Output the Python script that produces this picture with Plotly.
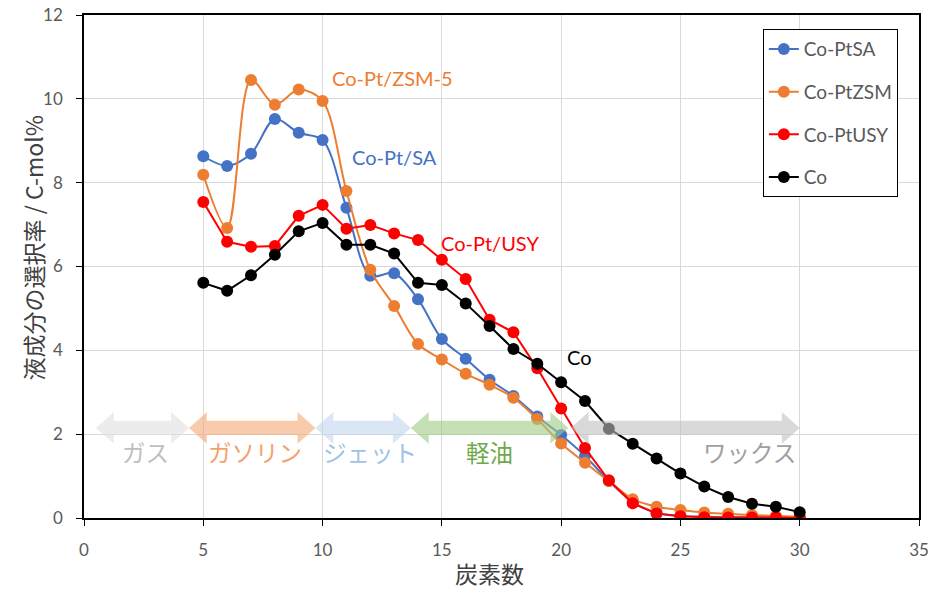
import plotly.graph_objects as go

# Carbon number of each liquid product fraction
carbon = list(range(5, 31))

# Selectivity to each carbon number (C-mol%)
co_pt_sa = [8.63, 8.40, 8.69, 9.52, 9.19, 9.02, 7.40, 5.78, 5.84, 5.22, 4.27, 3.80, 3.30,
            2.91, 2.42, 1.98, 1.48, 0.88, 0.38, 0.12, 0.05, 0.03, 0.02, 0.02, 0.01, 0.01]
co_pt_zsm = [8.19, 6.92, 10.45, 9.86, 10.22, 9.95, 7.80, 5.92, 5.06, 4.15, 3.78, 3.44, 3.18,
             2.87, 2.36, 1.78, 1.32, 0.88, 0.45, 0.27, 0.19, 0.13, 0.10, 0.07, 0.05, 0.03]
co_pt_usy = [7.54, 6.59, 6.47, 6.49, 7.21, 7.47, 6.90, 6.99, 6.79, 6.63, 6.16, 5.70, 4.73,
             4.43, 3.57, 2.61, 1.67, 0.90, 0.35, 0.11, 0.04, 0.02, 0.01, 0.01, 0.01, 0.00]
co_only = [5.61, 5.42, 5.79, 6.28, 6.84, 7.04, 6.52, 6.52, 6.31, 5.61, 5.56, 5.12, 4.58,
           4.03, 3.68, 3.24, 2.79, 2.13, 1.77, 1.42, 1.06, 0.75, 0.50, 0.34, 0.27, 0.14]

series_names = ["Co-PtSA", "Co-PtZSM", "Co-PtUSY", "Co"]
series_values = [co_pt_sa, co_pt_zsm, co_pt_usy, co_only]
series_colors = ["#4472C4", "#ED7D31", "#FF0000", "#000000"]
series_shapes = ["spline", "spline", "linear", "linear"]

# Inline series labels
label_texts = ["Co-Pt/ZSM-5", "Co-Pt/SA", "Co-Pt/USY", "Co"]
label_colors = ["#ED7D31", "#4472C4", "#FF0000", "#000000"]
label_x = [10.3, 11.15, 14.9, 20.15]
label_y = [10.5, 8.62, 6.56, 3.84]

# Product fractions: name and carbon-number span of each band
fraction_names = ["ガス", "ガソリン", "ジェット", "軽油", "ワックス"]
fraction_start = [0.5, 4.4, 9.7, 13.7, 20.4]
fraction_end = [4.4, 9.7, 13.7, 20.3, 30.0]
fraction_arrow_colors = ["#DFDFDF", "#F3A876", "#C1D3EE", "#A0CC85", "#C0C0C0"]
fraction_text_colors = ["#BFBFBF", "#F4A26C", "#9DC3E6", "#70A84C", "#A0A0A0"]
fraction_label_x = [2.56, 7.15, 12.0, 17.0, 27.9]

LATIN = "Lato, 'Noto Sans CJK JP', sans-serif"
CJK = "'Noto Sans CJK JP', sans-serif"

fig = go.Figure()

for i, (name, vals, col, shp) in enumerate(zip(series_names, series_values,
                                                series_colors, series_shapes)):
    fig.add_trace(go.Scatter(
        x=carbon, y=vals, name=name, mode="lines+markers",
        line=dict(color=col, width=2, shape=shp, smoothing=0.9),
        marker=dict(color=col, size=12),
        legendgroup=f"g{i}",
    ))

# Double-headed arrows marking each product fraction
yc, h_shaft, h_head, head_len = 2.15, 0.17, 0.38, 0.75
shapes = []
for a, b, col in zip(fraction_start, fraction_end, fraction_arrow_colors):
    path = (f"M {a},{yc} L {a+head_len},{yc+h_head} L {a+head_len},{yc+h_shaft} "
            f"L {b-head_len},{yc+h_shaft} L {b-head_len},{yc+h_head} L {b},{yc} "
            f"L {b-head_len},{yc-h_head} L {b-head_len},{yc-h_shaft} "
            f"L {a+head_len},{yc-h_shaft} L {a+head_len},{yc-h_head} Z")
    shapes.append(dict(type="path", path=path, xref="x", yref="y",
                       fillcolor=col, opacity=0.6, line=dict(width=0),
                       layer="above"))

annotations = []
for t, c, x, y in zip(label_texts, label_colors, label_x, label_y):
    annotations.append(dict(x=x, y=y, xref="x", yref="y", text=t, showarrow=False,
                            xanchor="left", yanchor="middle",
                            font=dict(family=LATIN, size=20, color=c)))
for t, c, x in zip(fraction_names, fraction_text_colors, fraction_label_x):
    annotations.append(dict(x=x, y=1.58, xref="x", yref="y", text=t, showarrow=False,
                            xanchor="center", yanchor="middle",
                            font=dict(family=CJK, size=23.5, color=c)))

# Axis titles
annotations.append(dict(x=0.486, y=0, xref="paper", yref="paper", yshift=-55,
                        text="炭素数", showarrow=False, xanchor="center",
                        yanchor="middle", font=dict(family=CJK, size=23, color="#404040")))
annotations.append(dict(x=0, y=0.536, xref="paper", yref="paper", xshift=-51,
                        text="液成分の選択率 / C-mol%", showarrow=False, textangle=-90,
                        xanchor="center", yanchor="middle",
                        font=dict(family=CJK, size=23, color="#404040")))

fig.update_layout(
    width=942, height=589,
    margin=dict(l=84, r=23, t=15, b=71),
    paper_bgcolor="white", plot_bgcolor="white",
    shapes=shapes, annotations=annotations,
    showlegend=True,
    legend=dict(x=0.813, y=0.972, xanchor="left", yanchor="top",
                bgcolor="white", bordercolor="#000000", borderwidth=1,
                font=dict(family=LATIN, size=19, color="#595959"),
                tracegroupgap=15, traceorder="grouped"),
)

fig.update_xaxes(range=[0, 35], dtick=5, tick0=0, automargin=False,
                 showgrid=True, gridcolor="#D9D9D9", gridwidth=1,
                 showline=True, linecolor="#000000", linewidth=1.5, mirror=True,
                 ticks="outside", ticklen=6, tickcolor="#000000", ticklabelstandoff=10,
                 zeroline=False,
                 tickfont=dict(family=LATIN, size=17, color="#595959"))
fig.update_yaxes(range=[0, 12], dtick=2, tick0=0, automargin=False,
                 showgrid=True, gridcolor="#D9D9D9", gridwidth=1,
                 showline=True, linecolor="#000000", linewidth=1.5, mirror=True,
                 ticks="outside", ticklen=6, tickcolor="#000000", ticklabelstandoff=10,
                 zeroline=False,
                 tickfont=dict(family=LATIN, size=17, color="#595959"))

fig.write_html("out.html")
